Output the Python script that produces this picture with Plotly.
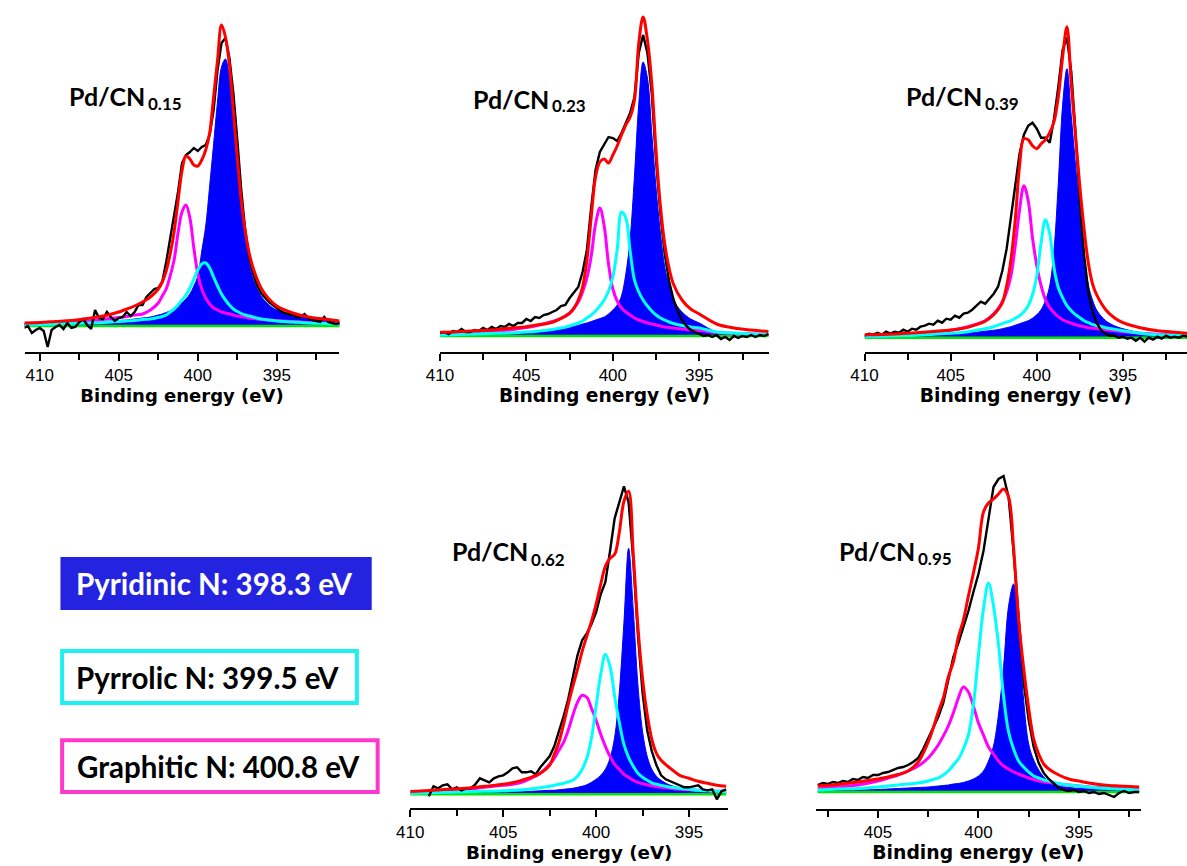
import numpy as np
import plotly.graph_objects as go

W, H = 1187, 866

# ======================= DATA (intensity in arbitrary units, baseline = 0) =======================
# ---- Panel 1 : Pd/CN0.15 ----
E_FIT_1 = [411, 410, 409, 408, 407, 406, 405, 404.5, 404, 403.5, 403, 402.5, 402.25, 402, 401.75, 401.5,
           401.25, 401, 400.75, 400.5, 400.25, 400, 399.75, 399.5, 399.25, 399, 398.75, 398.5, 398.25, 398,
           397.75, 397.5, 397.25, 397, 396.75, 396.5, 396, 395.5, 395, 394, 393, 392, 391]
PYRIDINIC_1 = [1.5, 2, 2.5, 3, 3.5, 4.5, 5.5, 6, 7, 8, 9, 11, 12, 13.5, 15, 17, 20, 23, 27, 32, 40, 50, 75, 100,
               140, 182, 225, 259, 267, 248, 208, 163, 118, 85, 62, 47, 30, 21, 16, 11, 8, 6, 4]
PYRROLIC_1 = [1, 1.5, 2, 2.5, 3, 3.5, 4.5, 5, 5.5, 6.5, 7, 8.5, 9.5, 11, 14, 17, 21, 26, 31, 38, 47, 56, 62, 63,
              58, 49, 40, 32, 26, 21, 17, 14.5, 12.5, 11, 10, 9, 7, 6, 5, 4, 3, 2.5, 2]
GRAPHITIC_1 = [2, 2.5, 3, 4, 5, 6.5, 8.5, 9.5, 11, 12, 16, 23, 30, 37, 50, 66, 93, 114, 121, 108, 78, 52, 37, 28,
               22, 18, 16, 14, 13, 12, 11, 10, 9.5, 9, 8, 7.5, 6.5, 6, 5.5, 4.5, 3.5, 3, 2.5]
ENVELOPE_1 = [3, 3.5, 4.5, 5.5, 7.5, 10, 14, 17, 20, 24, 29, 37, 44, 55, 72, 94, 125, 155, 170, 167, 161, 160,
              166, 176, 193, 229, 266, 301, 289, 261, 215, 168, 125, 95, 73, 58, 38, 27, 20, 13, 9, 7, 5]
RAW_RANGE_1 = (411.0, 391.0)   # measured every 0.25 eV
RAW_1 = [-2, 0, -7, -4, -2, -5, -21, -4, -1, 1, -3,
         3, -2, -1, 4, 7, 1, -3, 16, 8, 7,
         14, 9, 5, 8, 9, 14, 10, 14, 21, 21,
         29, 33, 37, 38, 44, 64, 86, 109, 134, 163,
         171, 174, 178, 175, 179, 181, 191, 216, 256, 283,
         288, 268, 233, 186, 136, 96, 68, 52, 41, 33,
         28, 24, 21, 18, 15, 13, 12, 11, 9, 9,
         12, 8, 6, 5, 4, 9, 4, 3, 2, 3]

# ---- Panel 2 : Pd/CN0.23 ----
E_FIT_2 = [410, 409, 408, 407, 406, 405, 404.5, 404, 403.5, 403, 402.5, 402.25, 402, 401.75, 401.5, 401.25,
           401, 400.75, 400.5, 400.25, 400, 399.75, 399.5, 399.25, 399, 398.75, 398.5, 398.25, 398, 397.75,
           397.5, 397.25, 397, 396.75, 396.5, 396, 395.5, 395, 394, 393, 392, 391]
PYRIDINIC_2 = [1, 1.5, 2, 2.5, 3, 4, 4.5, 5, 6, 7, 8.5, 9.5, 10.5, 12, 13, 14.5, 16, 17.5, 19, 22, 26, 31, 40,
               62, 97, 160, 232, 274, 258, 203, 148, 103, 69, 50, 36, 24, 17, 13, 4, 2.5, 1.5, 1]
PYRROLIC_2 = [1, 1.5, 2, 2.5, 3, 4, 4.5, 5.5, 6.5, 8, 10, 11.5, 13, 15, 18, 21, 25, 30, 36, 45, 59, 86, 124, 118,
              85, 56, 44, 36, 30, 25, 21, 18, 16, 14, 12.5, 10.5, 9, 8, 4, 3, 2, 1.5]
GRAPHITIC_2 = [2, 2.5, 3.5, 4.5, 6, 8.5, 10, 12, 14.5, 17.5, 23, 28, 34, 44, 58, 80, 112, 128, 110, 72, 47, 35,
               28, 24, 21, 18, 16, 14.5, 13, 12, 11, 10, 9, 8.5, 8, 7, 6, 5.5, 3.5, 2.5, 2, 1.5]
ENVELOPE_2 = [3.7, 4.3, 5.3, 6, 7.7, 9.3, 10.7, 12, 13.7, 17.7, 22.7, 27.7, 36, 49, 76, 119, 159, 174, 177, 173,
              181, 190, 201, 211, 219, 236, 293, 319, 296, 253, 185, 130, 92, 68, 52, 36, 27, 22, 12, 8, 6, 4.5]
RAW_RANGE_2 = (410.0, 391.0)
RAW_2 = [3, 4, 2, 5, 4, 7, 4, 4, 6, 5,
         8, 6, 9, 7, 10, 9, 12, 10, 13, 13,
         17, 15, 19, 18, 21, 22, 24, 26, 30, 31,
         38, 43, 49, 64, 86, 129, 166, 184, 192, 199,
         198, 195, 203, 213, 223, 239, 283, 301, 283, 243,
         175, 122, 82, 55, 37, 25, 16, 10, 6, 4,
         2, 0, 1, -1, 1, -3, -1, -4, 0, -2,
         0, -1, 1, -1, 1, 0, 2]

# ---- Panel 3 : Pd/CN0.39 ----
E_FIT_3 = [410, 409, 408, 407, 406, 405, 404.5, 404, 403.5, 403, 402.5, 402.25, 402, 401.75, 401.5, 401.25,
           401, 400.75, 400.5, 400.25, 400, 399.75, 399.5, 399.25, 399, 398.75, 398.5, 398.25, 398, 397.75,
           397.5, 397.25, 397, 396.75, 396.5, 396, 395.5, 395, 394, 393, 392, 391.25]
PYRIDINIC_3 = [1, 1.5, 2, 2.5, 3, 3.5, 4, 4.5, 5.5, 6.5, 7.5, 8, 9, 10, 11, 12.5, 14, 15.5, 17, 19.5, 23, 28,
               37, 52, 88, 155, 233, 269, 222, 172, 120, 78, 52, 37, 27, 17, 12, 9, 5, 3, 2, 1.5]
PYRROLIC_3 = [1.2, 1.5, 2, 2.5, 3.5, 4.5, 5, 6, 7.5, 9, 11, 12.5, 14, 15.5, 17, 19.5, 22, 26, 32, 43, 62, 95,
              118, 104, 70, 50, 40, 32, 27, 23, 20, 17, 15, 13, 12, 10, 8.5, 7, 4.5, 3, 2.5, 2]
GRAPHITIC_3 = [1.5, 2, 3, 4, 5.5, 7.5, 9, 11, 13.5, 17, 24, 29, 36, 46, 62, 92, 128, 152, 137, 100, 72, 52, 38,
               30, 25, 21, 18, 16, 14.5, 13, 12, 11, 10, 9.5, 9, 8, 7, 6, 4.5, 3.5, 3, 2.7]
ENVELOPE_3 = [3, 3.3, 4, 5, 6.3, 7.7, 8.7, 10.3, 13, 16.5, 23, 28, 35, 52, 78, 118, 172, 199, 198, 192, 189,
              194, 198, 205, 216, 241, 281, 311, 254, 201, 151, 108, 74, 53, 42, 28, 20, 15, 10, 7, 5.5, 4.5]
RAW_RANGE_3 = (410.0, 391.25)
RAW_3 = [2, 4, 3, 5, 3, 6, 4, 6, 5, 8,
         6, 9, 8, 11, 12, 14, 13, 17, 15, 19,
         18, 22, 20, 24, 25, 28, 32, 36, 34, 39,
         44, 51, 67, 89, 121, 156, 184, 203, 212, 215,
         209, 200, 200, 195, 219, 251, 288, 300, 266, 204,
         134, 82, 45, 25, 14, 7, 4, 2, 2, 0,
         1, -1, 0, -3, 0, -4, 0, -2, 1, -1,
         2, 0, 1, 0, 2, 1]

# ---- Panel 4 : Pd/CN0.62 ----
E_FIT_4 = [410, 409, 408, 407, 406, 405, 404.5, 404, 403.5, 403, 402.5, 402.25, 402, 401.75, 401.5, 401.25,
           401, 400.75, 400.5, 400.25, 400, 399.75, 399.5, 399.25, 399, 398.75, 398.5, 398.25, 398, 397.75,
           397.5, 397.25, 397, 396.75, 396.5, 396, 395.5, 395, 394.5, 394, 393.5, 393]
PYRIDINIC_4 = [1, 1, 1.5, 1.5, 2, 2, 2.5, 2.5, 3, 3.5, 4, 4, 4.5, 5, 5.5, 6, 7, 8, 9.5, 12, 15, 19, 25, 36, 57,
               102, 172, 246, 185, 110, 63, 38, 25, 18, 14, 9, 6.5, 5, 4, 3, 2.5, 2]
PYRROLIC_4 = [1, 1.5, 2, 2.5, 3, 3.5, 4, 4.5, 5.5, 6.5, 8, 9, 10, 11, 12.5, 14, 18, 25, 36, 56, 88, 120, 140,
              128, 98, 72, 50, 37, 28, 21, 17, 14, 11.5, 10, 9, 7, 6, 5, 4, 3.5, 3, 2.5]
GRAPHITIC_4 = [2.5, 3, 3.5, 5, 7, 9, 10, 12, 16, 21, 30, 36, 44, 52, 64, 79, 92, 99, 97, 86, 74, 60, 48, 38, 30,
               25, 20, 17, 14, 12, 10.5, 9.5, 8.5, 7.5, 7, 6, 5, 4.5, 4, 3.5, 3, 3]
ENVELOPE_4 = [2.7, 3.7, 5, 6, 8, 10, 11.5, 14, 17, 21, 29, 40, 52, 70, 90, 108, 125, 143, 158, 173, 190, 210,
              228, 236, 240, 262, 293, 303, 241, 168, 116, 80, 55, 41, 34, 26, 19, 16, 13, 11, 9, 8]
RAW_RANGE_4 = (409.0, 393.0)
RAW_4 = [-2, 8, 6, 9, 10, 5, 7, 4, 6, 6,
         10, 16, 14, 12, 16, 18, 19, 22, 26, 27,
         22, 22, 23, 20, 27, 32, 38, 48, 62, 78,
         95, 118, 139, 154, 161, 170, 182, 200, 212, 243,
         276, 292, 308, 292, 235, 160, 102, 64, 43, 29,
         19, 15, 13, 11, 9, 7, 7, 8, 9, 5,
         4, 5, -5, 3, 5]

# ---- Panel 5 : Pd/CN0.95 ----
E_FIT_5 = [408, 407, 406, 405, 404.5, 404, 403.5, 403, 402.5, 402.25, 402, 401.75, 401.5, 401.25, 401, 400.75,
           400.5, 400.25, 400, 399.75, 399.5, 399.25, 399, 398.75, 398.5, 398.25, 398, 397.75, 397.5, 397.25,
           397, 396.75, 396.5, 396, 395.5, 395, 394.5, 394, 393.5, 393, 392]
PYRIDINIC_5 = [1, 1.5, 2, 2.5, 3, 3.5, 4, 4.5, 5, 5.5, 6, 6.5, 7, 8, 8.5, 9.5, 11, 13, 16, 21, 31, 46, 78, 125,
               186, 208, 162, 92, 48, 32, 22, 15, 11, 6, 4.5, 3.5, 3, 2.5, 2, 1.8, 1.5]
PYRROLIC_5 = [2, 3, 3.5, 5, 6, 7, 8, 9, 11, 12.5, 14, 17, 21, 27, 33, 43, 57, 87, 137, 183, 209, 186, 147, 96, 60,
              43, 31, 25, 20, 16, 14, 12, 11, 8.5, 7, 6, 5, 4, 3.5, 3, 2]
GRAPHITIC_5 = [3, 5, 7, 11, 14, 17, 21, 26, 34, 40, 47, 56, 66, 79, 94, 105, 100, 86, 69, 57, 45, 38, 31, 26, 23,
               20, 18, 16, 14, 12.5, 11, 10, 9.5, 8, 7, 6, 5, 4.5, 4, 3.5, 3]
ENVELOPE_5 = [6, 7.5, 10, 13, 15, 17.5, 21, 30, 50, 64, 80, 94, 115, 130, 155, 172, 196, 219, 244, 280, 289, 293,
              298, 303, 295, 244, 172, 124, 84, 53, 38, 28, 23, 17, 13, 11, 9, 7.5, 6.5, 6, 5]
RAW_RANGE_5 = (408.0, 392.0)
RAW_5 = [7, 9, 8, 10, 9, 11, 10, 13, 12, 15,
         14, 17, 17, 19, 20, 22, 24, 25, 27, 30,
         34, 43, 54, 64, 75, 89, 112, 135, 149, 165,
         181, 200, 218, 241, 275, 305, 313, 316, 295, 240,
         175, 110, 72, 45, 29, 19, 13, 8, 4, 2,
         1, 2, 0, 1, -1, 0, -2, -1, -3, -5,
         -1, 1, -1, 0, 0]

SAMPLE = "Pd/CN"
LABELS = ["0.15", "0.23", "0.39", "0.62", "0.95"]
MAJOR_TICKS = [410, 405, 400, 395]
MINOR_TICKS = [407.5, 402.5, 397.5, 392.5]
LEGEND_TEXT = ["Pyridinic N: 398.3 eV", "Pyrrolic N: 399.5 eV", "Graphitic N: 400.8 eV"]

FITS = [
    (E_FIT_1, PYRIDINIC_1, PYRROLIC_1, GRAPHITIC_1, ENVELOPE_1, RAW_RANGE_1, RAW_1),
    (E_FIT_2, PYRIDINIC_2, PYRROLIC_2, GRAPHITIC_2, ENVELOPE_2, RAW_RANGE_2, RAW_2),
    (E_FIT_3, PYRIDINIC_3, PYRROLIC_3, GRAPHITIC_3, ENVELOPE_3, RAW_RANGE_3, RAW_3),
    (E_FIT_4, PYRIDINIC_4, PYRROLIC_4, GRAPHITIC_4, ENVELOPE_4, RAW_RANGE_4, RAW_4),
    (E_FIT_5, PYRIDINIC_5, PYRROLIC_5, GRAPHITIC_5, ENVELOPE_5, RAW_RANGE_5, RAW_5),
]

# ======================= LAYOUT GEOMETRY (pixels) =======================
GEOM = [
    dict(x0=10.7, x1=329.3, xr=[410.96, 391.04], axis=351.7, base=326.0, top=0.0,
         lx=54, ly=95.5, sy=103.5, ts=18.0),
    dict(x0=431.0, x1=764.0, xr=[410.0, 390.97], axis=351.7, base=336.0, top=0.0,
         lx=462, ly=98.5, sy=106, ts=18.7),
    dict(x0=860.7, x1=1187.0, xr=[410.0, 391.28], axis=351.7, base=337.7, top=0.0,
         lx=901, ly=96, sy=103.5, ts=18.8),
    dict(x0=401.0, x1=722.7, xr=[410.0, 392.89], axis=808.3, base=794.3, top=430.0,
         lx=441, ly=551, sy=559, ts=18.3),
    dict(x0=811.7, x1=1140.0, xr=[408.08, 391.93], axis=809.0, base=792.0, top=430.0,
         lx=833, ly=551, sy=558.5, ts=18.8),
]
SUB_OFFSET = 80  # px between start of "Pd/CN" and its subscript

BLUE = "#0000FF"
CYAN = "#00FFFF"
MAGENTA = "#FF00FF"
RED = "#FF0000"
GREEN = "#00E600"


def px(x):
    return x / W


def py(y):
    return 1 - y / H


fig = go.Figure()
layout = {}
annotations = []

for i, (fit, g) in enumerate(zip(FITS, GEOM)):
    e_fit, pyr, pyrr, gra, env, raw_rng, raw = fit
    n = i + 1
    xa = "x" if n == 1 else f"x{n}"
    ya = "y" if n == 1 else f"y{n}"
    e_raw = np.linspace(raw_rng[0], raw_rng[1], len(raw))
    common = dict(xaxis=xa, yaxis=ya, showlegend=False, hoverinfo="skip")
    fig.add_trace(go.Scatter(x=e_fit, y=pyr, mode="lines", fill="tozeroy", fillcolor=BLUE,
                             line=dict(color=BLUE, width=1, shape="spline", smoothing=1.0), **common))
    fig.add_trace(go.Scatter(x=[e_fit[0], e_fit[-1]], y=[0, 0], mode="lines",
                             line=dict(color=GREEN, width=2.4), **common))
    fig.add_trace(go.Scatter(x=e_fit, y=gra, mode="lines",
                             line=dict(color=MAGENTA, width=3, shape="spline", smoothing=1.0), **common))
    fig.add_trace(go.Scatter(x=e_fit, y=pyrr, mode="lines",
                             line=dict(color=CYAN, width=3, shape="spline", smoothing=1.0), **common))
    fig.add_trace(go.Scatter(x=e_raw, y=raw, mode="lines",
                             line=dict(color="black", width=2.4), **common))
    fig.add_trace(go.Scatter(x=e_fit, y=env, mode="lines",
                             line=dict(color=RED, width=3, shape="spline", smoothing=1.0), **common))

    ymin = -(g["axis"] - g["base"])
    ymax = ymin + (g["axis"] - g["top"])
    key_x = "xaxis" if n == 1 else f"xaxis{n}"
    key_y = "yaxis" if n == 1 else f"yaxis{n}"
    layout[key_x] = dict(
        domain=[px(g["x0"]), px(g["x1"])], range=g["xr"], anchor=ya,
        showline=True, linecolor="black", linewidth=2, mirror=False,
        showgrid=False, zeroline=False,
        tickmode="array", tickvals=MAJOR_TICKS, ticks="outside", ticklen=7, tickwidth=2,
        tickcolor="black",
        tickfont=dict(family="Liberation Sans, Arial", size=17, color="black"),
        minor=dict(tickmode="array", tickvals=MINOR_TICKS, ticks="outside", ticklen=6,
                   tickwidth=2, tickcolor="black", showgrid=False),
        title=dict(text="Binding energy (eV)", standoff=3,
                   font=dict(family="DejaVu Sans", size=g["ts"], color="black", weight="bold")),
        fixedrange=True,
    )
    layout[key_y] = dict(domain=[py(g["axis"]), py(g["top"])], range=[ymin, ymax], anchor=xa,
                         visible=False, fixedrange=True)
    annotations.append(dict(
        text=SAMPLE, xref="paper", yref="paper",
        x=px(g["lx"]), y=py(g["ly"]), xanchor="left", yanchor="middle", showarrow=False,
        font=dict(family="Lato", size=25, color="black", weight="bold")))
    annotations.append(dict(
        text=LABELS[i], xref="paper", yref="paper",
        x=px(g["lx"] + SUB_OFFSET), y=py(g["sy"]), xanchor="left", yanchor="middle", showarrow=False,
        font=dict(family="Lato", size=17, color="black", weight="bold")))

# legend boxes (drawn as shapes + text)
shapes = [
    dict(type="rect", xref="paper", yref="paper", x0=px(47), x1=px(362), y0=py(610), y1=py(557),
         fillcolor="#2424E0", line=dict(width=0), layer="below"),
    dict(type="rect", xref="paper", yref="paper", x0=px(48.7), x1=px(347), y0=py(703), y1=py(651),
         fillcolor="white", line=dict(color="#1CF0F0", width=4)),
    dict(type="rect", xref="paper", yref="paper", x0=px(48.7), x1=px(368), y0=py(792), y1=py(740.3),
         fillcolor="white", line=dict(color="#FF38CC", width=4)),
]
legend_pos = [(202.5, 583.5, "white"), (196, 677, "black"), (207, 766, "black")]
for txt, (cx, cy, col) in zip(LEGEND_TEXT, legend_pos):
    annotations.append(dict(
        text=txt, xref="paper", yref="paper", x=px(cx), y=py(cy), xanchor="center", yanchor="middle",
        showarrow=False, font=dict(family="Lato", size=29.5, color=col, weight="bold")))

fig.update_layout(
    width=W, height=H, margin=dict(l=0, r=0, t=0, b=0),
    paper_bgcolor="white", plot_bgcolor="rgba(0,0,0,0)",
    annotations=annotations, shapes=shapes, **layout)

fig.write_html("out.html")
